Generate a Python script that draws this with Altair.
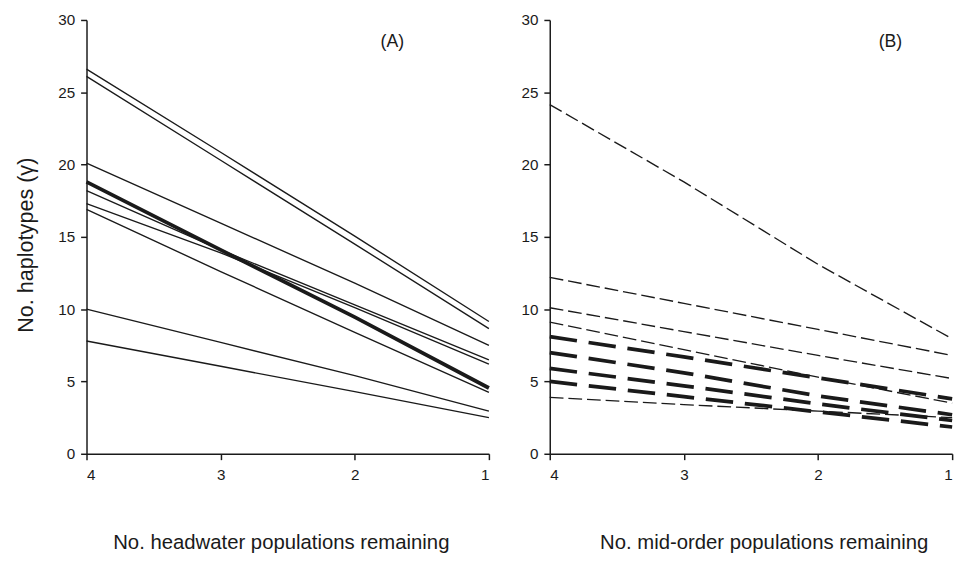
import altair as alt
import pandas as pd

# x positions (number of populations remaining)
x_vals = [4, 3, 2, 1]

# Panel A: headwater populations (solid lines)
a_series = {
    "a1": [26.6, 20.85, 15.05, 9.15],
    "a2": [26.1, 20.3, 14.5, 8.65],
    "a3": [20.1, 15.95, 11.8, 7.5],
    "a5": [18.2, 14.1, 10.3, 6.5],
    "a6": [17.3, 13.9, 10.1, 6.2],
    "a7": [16.9, 12.6, 8.4, 4.25],
    "a8": [10.0, 7.7, 5.4, 2.95],
    "a9": [7.8, 6.05, 4.3, 2.5],
}
a_thick = {"a4": [18.8, 14.1, 9.45, 4.55]}

# Panel B: mid-order populations (dashed lines)
b_series = {
    "b1": [24.15, 18.8, 13.1, 7.95],
    "b2": [12.2, 10.4, 8.6, 6.8],
    "b3": [10.1, 8.45, 6.8, 5.2],
    "b4": [9.1, 7.2, 5.3, 3.5],
    "b9": [3.9, 3.4, 2.95, 2.5],
}
b_thick = {
    "t1": [8.1, 6.7, 5.25, 3.8],
    "t2": [7.0, 5.6, 4.0, 2.7],
    "t3": [5.9, 4.7, 3.45, 2.3],
    "t4": [5.0, 3.95, 2.9, 1.85],
}

panel_labels = ["(A)", "(B)"]
label_x = [1.72, 1.46]
label_y = [28.5, 28.5]

y_ticks = [0, 5, 10, 15, 20, 25, 30]
x_ticks = [4, 3, 2, 1]


def frame(d):
    rows = []
    for k, ys in d.items():
        for i, (xv, yv) in enumerate(zip(x_vals, ys)):
            rows.append({"s": k, "x": xv, "y": yv, "o": i})
    return pd.DataFrame(rows)


INK = "#1a1a1a"
FONT = "Liberation Sans"
W, H = 410, 442


def panel(thin, thick, dash_thin, dash_thick, xtitle, ytitle, lab, lx, ly, title_x):
    xenc = alt.X(
        "x:Q",
        scale=alt.Scale(domain=[1, 4], reverse=True, nice=False, zero=False),
        axis=alt.Axis(
            values=x_ticks, format="d", title=xtitle, titleX=title_x, titleY=97,
            titleBaseline="alphabetic", titleFontSize=20.7,
        ),
    )
    if ytitle is None:
        yaxis = alt.Axis(values=y_ticks, title=None)
    else:
        yaxis = alt.Axis(values=y_ticks, title=ytitle, titleX=-55, titleY=229,
                         titleBaseline="alphabetic", titleFontSize=22)
    yenc = alt.Y("y:Q", scale=alt.Scale(domain=[0, 30], nice=False), axis=yaxis)

    thin_kw = dict(color=INK, strokeWidth=1.4)
    thick_kw = dict(color=INK, strokeWidth=3.8)
    if dash_thin:
        thin_kw["strokeDash"] = dash_thin
    if dash_thick:
        thick_kw["strokeDash"] = dash_thick

    l1 = alt.Chart(frame(thin)).mark_line(**thin_kw).encode(
        x=xenc, y=yenc, detail="s:N", order="o:Q"
    )
    l2 = alt.Chart(frame(thick)).mark_line(**thick_kw).encode(
        x="x:Q", y="y:Q", detail="s:N", order="o:Q"
    )
    t = alt.Chart(pd.DataFrame({"x": [lx], "y": [ly], "t": [lab]})).mark_text(
        font=FONT, fontSize=18, color=INK
    ).encode(x="x:Q", y="y:Q", text="t:N")
    return alt.layer(l1, l2, t).properties(width=W, height=H)


left = panel(a_series, a_thick, None, None,
             "No. headwater populations remaining", "No. haplotypes (γ)",
             panel_labels[0], label_x[0], label_y[0], 198)
right = panel(b_series, b_thick, [14, 5], [28, 12],
              "No. mid-order populations remaining", None,
              panel_labels[1], label_x[1], label_y[1], 218)

chart = alt.hconcat(left, right, spacing=24).properties(
    padding={"left": 7, "top": 0, "right": 0, "bottom": 0}
).configure_view(stroke=None).configure_axis(
    grid=False,
    domainColor=INK, domainWidth=1.5,
    tickColor=INK, tickWidth=1.5, tickSize=6,
    labelColor=INK, labelFont=FONT, labelFontSize=15.5, labelPadding=6,
    titleColor=INK, titleFont=FONT, titleFontWeight="normal",
).configure_axisX(labelPadding=8)

chart.save("out.html", embed_options={"renderer": "svg", "actions": False})
